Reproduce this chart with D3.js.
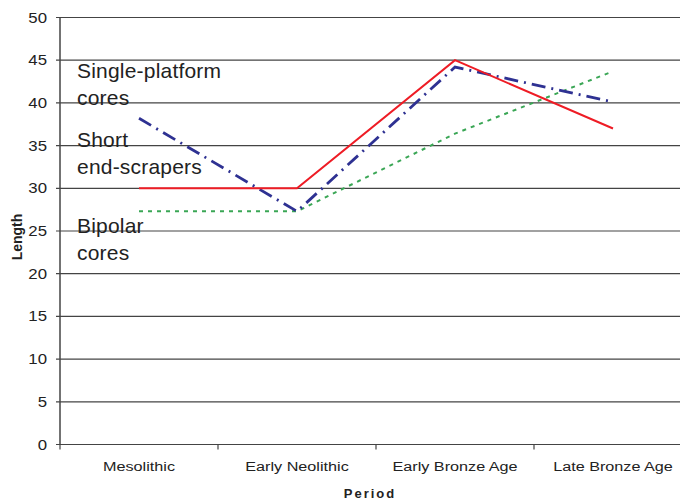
<!DOCTYPE html>
<html>
<head>
<meta charset="utf-8">
<script src="https://cdn.jsdelivr.net/npm/d3@7"></script>
<style>
  body { margin: 0; background: #fff; }
  svg { display: block; font-family: Arial, "Liberation Sans", sans-serif; }
</style>
</head>
<body>
<svg id="chart" width="680" height="501"></svg>
<script>
let periods = ["Mesolithic", "Early Neolithic", "Early Bronze Age", "Late Bronze Age"];
let yTicks = [0, 5, 10, 15, 20, 25, 30, 35, 40, 45, 50];

let shortScrapers = [30, 30, 45, 37];
let singlePlatform = [38.2, 27.3, 44.2, 40.1];
let bipolar = [27.3, 27.3, 36.4, 43.7];

let seriesNames = ["Short end-scrapers", "Single-platform cores", "Bipolar cores"];

window.addEventListener("load", function() {
    let svg = d3.select("#chart");

    let left = 60, right = 692, top = 17.5, bottom = 444.5;

    let x = d3.scaleBand().domain(periods).range([left, right]);
    let y = d3.scaleLinear().domain([0, 50]).range([bottom, top]);

    // gridlines
    svg.append("g").selectAll("line")
        .data(yTicks)
        .enter().append("line")
        .attr("x1", left - 4)
        .attr("x2", 680)
        .attr("y1", d => y(d))
        .attr("y2", d => y(d))
        .style("stroke", "#444")
        .style("stroke-width", 1.2);

    // y axis line
    svg.append("line")
        .attr("x1", left).attr("x2", left)
        .attr("y1", top).attr("y2", bottom)
        .style("stroke", "#444")
        .style("stroke-width", 1.5);

    // y tick labels
    svg.append("g").selectAll("text")
        .data(yTicks)
        .enter().append("text")
        .attr("transform", d => "translate(47," + (y(d) + 5) + ") scale(1.2,1)")
        .attr("text-anchor", "end")
        .style("font-size", "14px")
        .style("fill", "#222")
        .text(d => d);

    // x tick marks at band edges
    svg.append("g").selectAll("line")
        .data(periods)
        .enter().append("line")
        .attr("x1", d => x(d)).attr("x2", d => x(d))
        .attr("y1", bottom).attr("y2", bottom + 5)
        .style("stroke", "#444")
        .style("stroke-width", 1.2);

    // x tick labels
    svg.append("g").selectAll("text")
        .data(periods)
        .enter().append("text")
        .attr("transform", d => "translate(" + (x(d) + x.bandwidth() / 2) + ",471) scale(1.2,1)")
        .attr("text-anchor", "middle")
        .style("font-size", "13.5px")
        .style("fill", "#222")
        .text(d => d);

    // axis titles
    svg.append("text")
        .attr("x", 370).attr("y", 498)
        .attr("text-anchor", "middle")
        .style("font-size", "13px")
        .style("font-weight", "bold")
        .style("letter-spacing", "2px")
        .style("fill", "#222")
        .text("Period");

    svg.append("text")
        .attr("transform", "translate(22,237) rotate(-90)")
        .attr("text-anchor", "middle")
        .style("font-size", "14px")
        .style("font-weight", "bold")
        .style("fill", "#222")
        .text("Length");

    let line = d3.line()
        .x((d, i) => x(periods[i]) + x.bandwidth() / 2)
        .y(d => y(d));

    svg.append("path")
        .datum(bipolar)
        .attr("d", line)
        .style("fill", "none")
        .style("stroke", "#3aa655")
        .style("stroke-width", 2)
        .style("stroke-dasharray", "4,5");

    svg.append("path")
        .datum(singlePlatform)
        .attr("d", line)
        .style("fill", "none")
        .style("stroke", "#2e3192")
        .style("stroke-width", 2.8)
        .style("stroke-dasharray", "14,6,2,6");

    svg.append("path")
        .datum(shortScrapers)
        .attr("d", line)
        .style("fill", "none")
        .style("stroke", "#ee1c25")
        .style("stroke-width", 2);

    // series labels
    let labels = [
        ["Single-platform", 77.5], ["cores", 105],
        ["Short", 146.5], ["end-scrapers", 174],
        ["Bipolar", 233], ["cores", 260]
    ];
    svg.append("g").selectAll("text")
        .data(labels)
        .enter().append("text")
        .attr("x", 77)
        .attr("y", d => d[1])
        .style("font-size", "21px")
        .style("letter-spacing", "0.2px")
        .style("fill", "#222")
        .text(d => d[0]);
});
</script>
</body>
</html>
